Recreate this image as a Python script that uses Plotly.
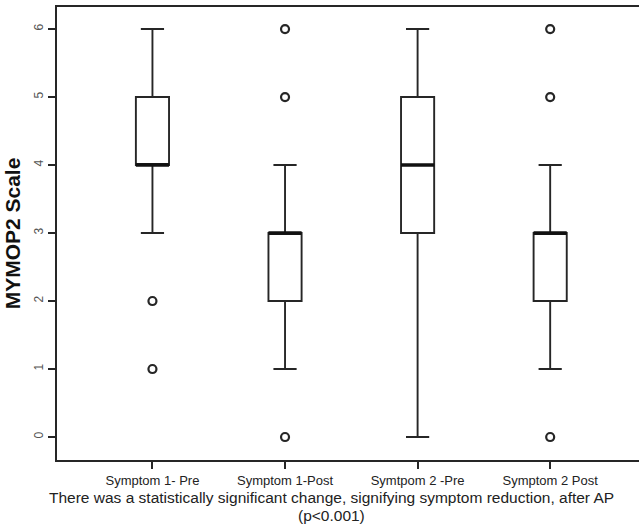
import plotly.graph_objects as go

categories = ["Symptom 1- Pre", "Symptom 1-Post", "Symtpom 2 -Pre", "Symptom 2 Post"]
q1 = [4, 2, 3, 2]
median = [4, 3, 4, 3]
q3 = [5, 3, 5, 3]
lower = [3, 1, 0, 1]
upper = [6, 4, 6, 4]
outliers = [[2, 1], [6, 5, 0], [], [6, 5, 0]]
y_ticks = [0, 1, 2, 3, 4, 5, 6]

positions = list(range(len(categories)))
BOX_W = 0.25
LINE = "#262626"

fig = go.Figure()
for i, cat in enumerate(categories):
    fig.add_trace(go.Box(
        x=[positions[i]], q1=[q1[i]], median=[median[i]], q3=[q3[i]],
        lowerfence=[lower[i]], upperfence=[upper[i]],
        width=BOX_W, whiskerwidth=0.7, boxpoints=False,
        fillcolor="white", line=dict(color=LINE, width=1.9),
        name=cat, showlegend=False, hoverinfo="skip",
    ))

# bold median lines
mx, my = [], []
for i in positions:
    mx += [positions[i] - BOX_W / 2, positions[i] + BOX_W / 2, None]
    my += [median[i], median[i], None]
fig.add_trace(go.Scatter(x=mx, y=my, mode="lines", line=dict(color="#111", width=3.4),
                         showlegend=False, hoverinfo="skip"))

# outliers
ox, oy = [], []
for i in positions:
    for v in outliers[i]:
        ox.append(positions[i])
        oy.append(v)
fig.add_trace(go.Scatter(x=ox, y=oy, mode="markers",
                         marker=dict(symbol="circle-open", size=8, color=LINE, line=dict(width=2.2)),
                         showlegend=False, hoverinfo="skip"))

fig.update_layout(
    width=639, height=527,
    margin=dict(l=57, r=0, t=7, b=67),
    paper_bgcolor="white", plot_bgcolor="white",
    font=dict(family="Liberation Sans, Arial, sans-serif", color="#222"),
    xaxis=dict(
        range=[-0.72, 3.67], tickmode="array", tickvals=positions, ticktext=categories,
        showline=True, mirror=True, linecolor=LINE, linewidth=2,
        ticks="outside", ticklen=7, tickwidth=2, tickcolor=LINE,
        showgrid=False, zeroline=False,
        tickfont=dict(family="Liberation Sans Narrow, Liberation Sans, Arial", size=13, color="#222"),
    ),
    yaxis=dict(
        range=[-0.338, 6.324], tickmode="array", tickvals=y_ticks,
        ticktext=[str(v) for v in y_ticks], tickangle=-90,
        showline=True, mirror=False, linecolor=LINE, linewidth=2,
        ticks="outside", ticklen=7, tickwidth=1.5, tickcolor=LINE,
        showgrid=False, zeroline=False,
        tickfont=dict(size=12, color="#555"),
        title=dict(text="<b>MYMOP2 Scale</b>", font=dict(size=21, color="#111"), standoff=6),
    ),
    annotations=[
        dict(text="There was a statistically significant change, signifying symptom reduction, after AP",
             xref="paper", yref="paper", x=0.4725, y=0, xanchor="center", yanchor="middle",
             yshift=-37, showarrow=False, font=dict(size=15.5, color="#222")),
        dict(text="(p<0.001)",
             xref="paper", yref="paper", x=0.4725, y=0, xanchor="center", yanchor="middle",
             yshift=-55, showarrow=False, font=dict(size=15.5, color="#222")),
    ],
)

fig.write_html("out.html", config={"displayModeBar": False},
               post_script="document.body.style.margin='0';")
